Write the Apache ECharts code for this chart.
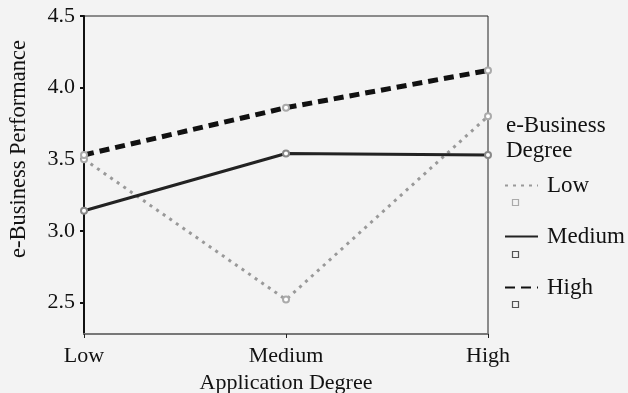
<!DOCTYPE html>
<html>
<head>
<meta charset="utf-8">
<script src="https://cdn.jsdelivr.net/npm/echarts@6/dist/echarts.min.js"></script>
<style>
html,body{margin:0;padding:0;background:#f3f3f3;}
#c{width:628px;height:393px;}
</style>
</head>
<body>
<div id="c"></div>
<script>
var categories = ['Low', 'Medium', 'High'];
var seriesNames = ['Low', 'Medium', 'High'];
var lowValues = [3.50, 2.52, 3.80];
var mediumValues = [3.14, 3.54, 3.53];
var highValues = [3.53, 3.86, 4.12];
var yTicks = [2.5, 3.0, 3.5, 4.0, 4.5];
var xTitle = 'Application Degree';
var yTitle = 'e-Business Performance';
var legendTitle = 'e-Business\nDegree';

var font = 'Liberation Serif';
var chart = echarts.init(document.getElementById('c'));
chart.setOption({
  backgroundColor: '#f3f3f3',
  animation: false,
  title: {
    text: legendTitle,
    left: 501, top: 108,
    textStyle: {fontFamily: font, fontSize: 23, fontWeight: 'normal', color: '#111', lineHeight: 25}
  },
  legend: {
    orient: 'vertical',
    left: 499, top: 169,
    itemWidth: 33, itemHeight: 20, itemGap: 28,
    itemStyle: {opacity: 0},
    textStyle: {fontFamily: font, fontSize: 23, color: '#111', padding: [0,0,0,4]},
    data: seriesNames
  },
  grid: {left: 84, right: 140, top: 16, bottom: 59, outerBoundsMode: 'none', containLabel: false,
         show: true, borderColor: '#222', borderWidth: 1, backgroundColor: 'transparent'},
  xAxis: {
    type: 'category', data: categories, boundaryGap: false,
    name: xTitle, nameLocation: 'middle', nameGap: 37,
    nameTextStyle: {fontFamily: font, fontSize: 22, color: '#111'},
    axisLine: {lineStyle: {color: '#777', width: 2}},
    axisTick: {show: true, length: 4, alignWithLabel: true, lineStyle: {color: '#222'}},
    axisLabel: {fontFamily: font, fontSize: 22, color: '#111', margin: 11},
    splitLine: {show: false}
  },
  yAxis: {
    type: 'value', min: 2.28, max: 4.5,
    name: yTitle, nameLocation: 'middle', nameGap: 53,
    nameTextStyle: {fontFamily: font, fontSize: 22.5, color: '#111', padding: [0, 0, 0, 52]},
    axisLine: {show: true, lineStyle: {color: '#111', width: 2}},
    axisTick: {show: true, length: 4, customValues: yTicks, lineStyle: {color: '#111', width: 2}},
    axisLabel: {fontFamily: font, fontSize: 22, color: '#111', margin: 9, customValues: yTicks,
      formatter: function(v){ return v.toFixed(1); }},
    splitLine: {show: false}
  },
  series: [
    {name: seriesNames[0], type: 'line', data: lowValues, symbol: 'emptyCircle', symbolSize: 6,
     itemStyle: {color: '#aaa', borderColor: '#999'},
     lineStyle: {color: '#999', width: 3, type: [3, 5]}, z: 2},
    {name: seriesNames[1], type: 'line', data: mediumValues, symbol: 'emptyCircle', symbolSize: 6,
     itemStyle: {color: '#888', borderColor: '#888'},
     lineStyle: {color: '#222', width: 3, type: 'solid'}, z: 3},
    {name: seriesNames[2], type: 'line', data: highValues, symbol: 'emptyCircle', symbolSize: 6,
     itemStyle: {color: '#aaa', borderColor: '#aaa'},
     lineStyle: {color: '#111', width: 5, type: [10, 6]}, z: 4}
  ],
  graphic: [
    {type: 'rect', left: 510, top: 197, shape: {width: 6, height: 6}, style: {fill: 'none', stroke: '#aaa', lineWidth: 1.2}},
    {type: 'rect', left: 510, top: 249, shape: {width: 6, height: 6}, style: {fill: 'none', stroke: '#555', lineWidth: 1.2}},
    {type: 'rect', left: 510, top: 299, shape: {width: 6, height: 6}, style: {fill: 'none', stroke: '#555', lineWidth: 1.2}}
  ]
});
</script>
</body>
</html>
